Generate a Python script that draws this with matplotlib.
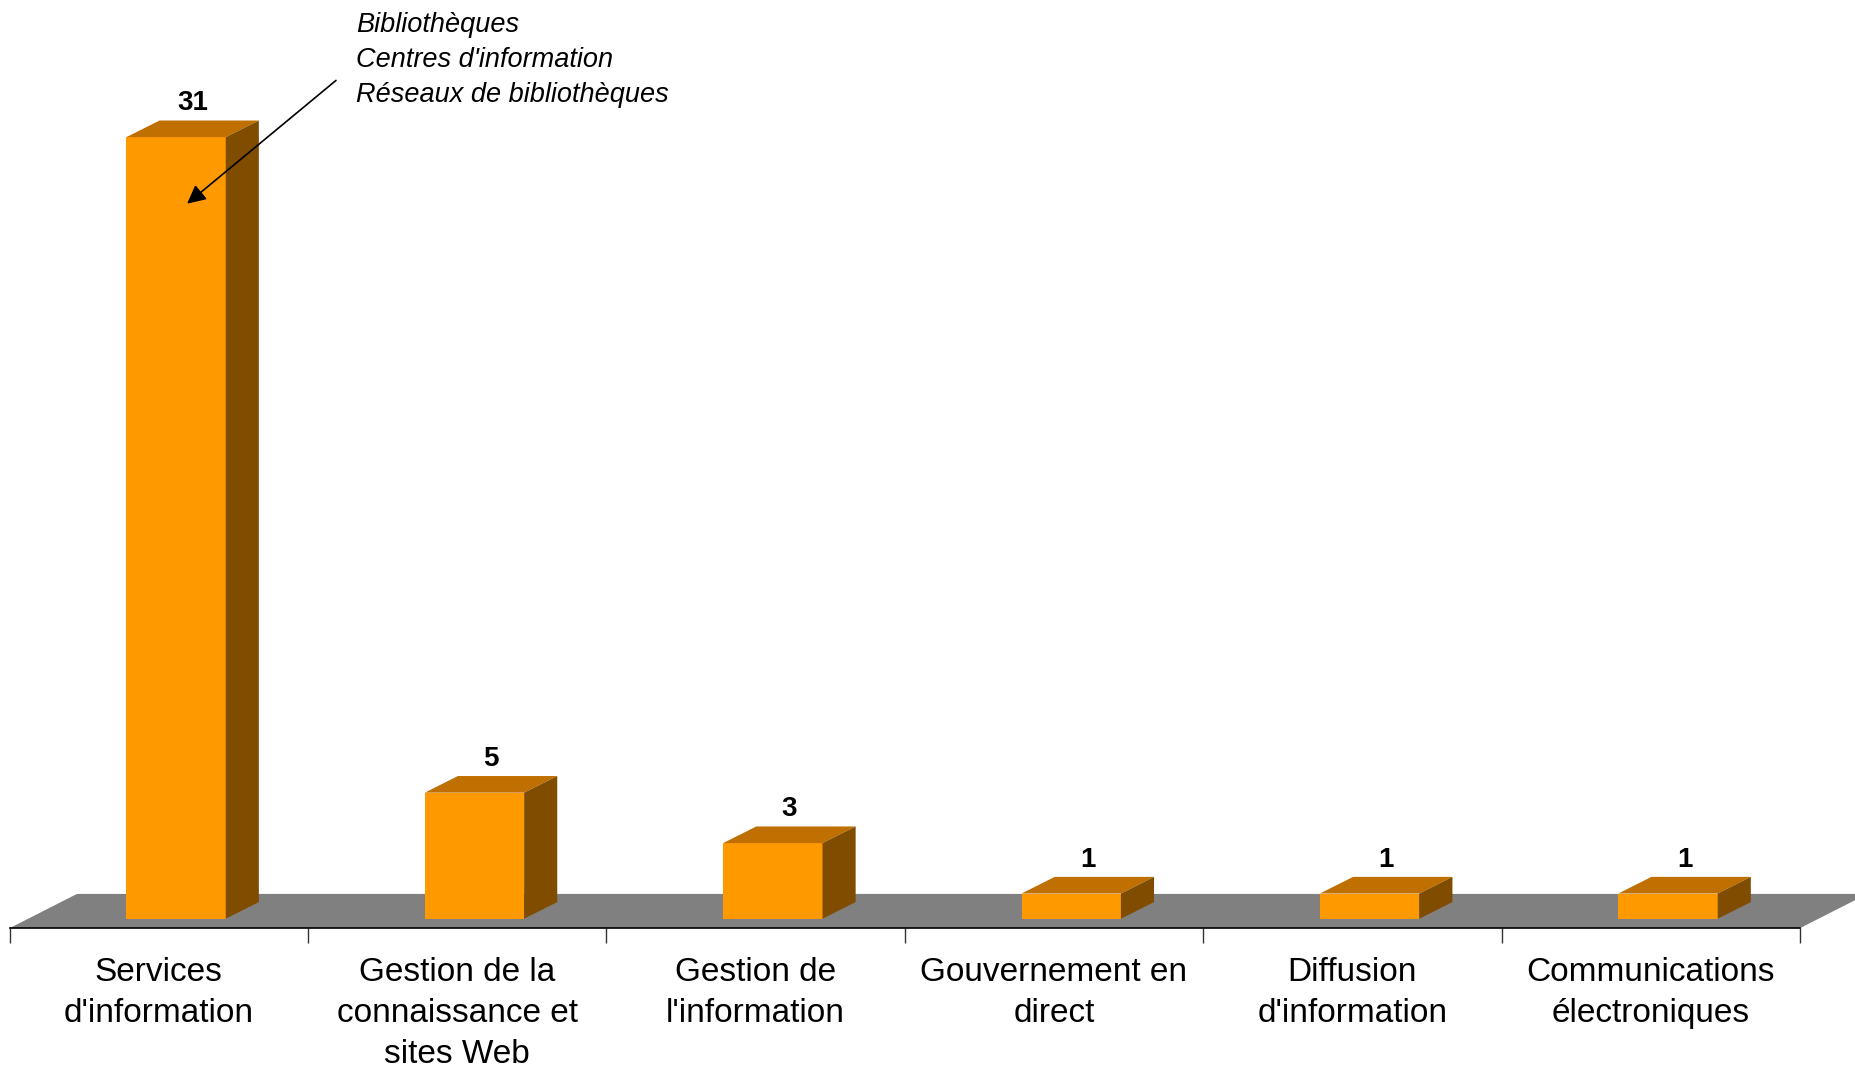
import numpy as np
import matplotlib.pyplot as plt

# categories and counts
categories = ["Services\nd'information",
              "Gestion de la\nconnaissance et\nsites Web",
              "Gestion de\nl'information",
              "Gouvernement en\ndirect",
              "Diffusion\nd'information",
              "Communications\nélectroniques"]
counts = [31, 5, 3, 1, 1, 1]
note_lines = ["Bibliothèques", "Centres d'information", "Réseaux de bibliothèques"]

plt.rcParams['font.family'] = ['Liberation Sans', 'DejaVu Sans']

# fake 3D look
bar_w = 0.333
bar_shift = 0.058          # bars sit a bit back on the floor
ddx, ddy = 0.111, 0.66     # bar depth
floor_y = -0.376
fdx, fdy = 0.226, 1.36     # floor depth

col_front = "#FF9900"
col_top = "#C07000"
col_side = "#804C00"

fig = plt.figure(figsize=(18.56, 10.70), dpi=100)
ax = fig.add_axes([0, 0, 1, 1])
ax.set_xlim(-0.532, 5.688)
ax.set_ylim(-6.0, 36.44)
ax.patch.set_alpha(0)

# floor
n = len(categories)
fx = [-0.5, n - 0.5, n - 0.5 + fdx, -0.5 + fdx]
fy = [floor_y, floor_y, floor_y + fdy, floor_y + fdy]
ax.fill(fx, fy, color="#808080", lw=0, zorder=1)

for i, v in enumerate(counts):
    x0 = i + bar_shift - bar_w / 2
    x1 = i + bar_shift + bar_w / 2
    ax.fill([x0, x1, x1, x0], [0, 0, v, v], color=col_front, lw=0, zorder=3)
    ax.fill([x0, x1, x1 + ddx, x0 + ddx], [v, v, v + ddy, v + ddy], color=col_top, lw=0, zorder=3)
    ax.fill([x1, x1 + ddx, x1 + ddx, x1], [0, ddy, v + ddy, v], color=col_side, lw=0, zorder=3)
    ax.annotate(str(v), (i + bar_shift + ddx / 2, v + ddy), xytext=(0, 3),
                textcoords="offset points", ha="center", va="bottom",
                fontsize=20, fontweight="bold", zorder=5)

# axis line on the floor front edge
for s in ["top", "left", "right"]:
    ax.spines[s].set_visible(False)
ax.spines["bottom"].set_position(("data", floor_y))
ax.spines["bottom"].set_linewidth(1.2)
ax.spines["bottom"].set_bounds(-0.5, n - 0.5)
ax.set_yticks([])
ax.set_xticks(range(n))
ax.set_xticklabels(categories, fontsize=24, linespacing=1.4)
ax.set_xticks(np.arange(-0.5, n, 1), minor=True)
ax.tick_params(axis="x", which="major", length=0, pad=21)
ax.tick_params(axis="x", which="minor", length=11, width=1, color="#333333")

# note with arrow to first bar
ax.text(0.661, 35.95, "\n".join(note_lines), fontsize=19.5, style="italic",
        ha="left", va="top", linespacing=1.45)
ax.annotate("", xy=(0.095, 28.36), xytext=(0.594, 33.25),
            arrowprops=dict(arrowstyle="-|>", color="black", lw=1.2,
                            mutation_scale=28, shrinkA=0, shrinkB=0),
            zorder=6)

fig.savefig("out.png", dpi=100)
